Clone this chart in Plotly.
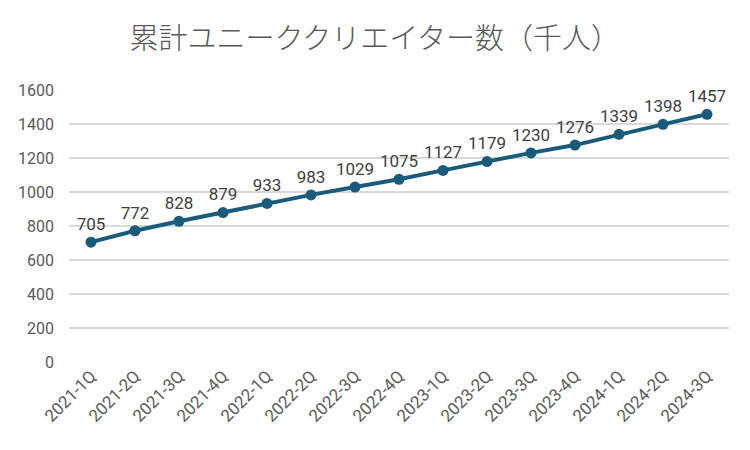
import plotly.graph_objects as go

quarters = ["2021-1Q", "2021-2Q", "2021-3Q", "2021-4Q",
            "2022-1Q", "2022-2Q", "2022-3Q", "2022-4Q",
            "2023-1Q", "2023-2Q", "2023-3Q", "2023-4Q",
            "2024-1Q", "2024-2Q", "2024-3Q"]
creators = [705, 772, 828, 879, 933, 983, 1029, 1075,
            1127, 1179, 1230, 1276, 1339, 1398, 1457]
y_ticks = [0, 200, 400, 600, 800, 1000, 1200, 1400, 1600]

line_color = "#1a5b7c"

fig = go.Figure(go.Scatter(
    x=quarters,
    y=creators,
    mode="lines+markers+text",
    text=[str(v) for v in creators],
    textposition="top center",
    textfont=dict(size=17, color="#404040"),
    line=dict(color=line_color, width=4),
    marker=dict(color=line_color, size=11),
    cliponaxis=False,
))

# page body adds ~8px offset, so margins are shifted to compensate
fig.update_layout(
    width=750, height=450,
    margin=dict(l=61, r=29, t=82, b=96),
    paper_bgcolor="white",
    plot_bgcolor="white",
    font=dict(family="Roboto, Noto Sans CJK JP", color="#595959"),
    title=dict(text="累計ユニーククリエイター数（千人）",
               x=0.489, xanchor="center", y=0.932, yanchor="middle",
               font=dict(family="Noto Sans CJK JP", size=29, weight=300,
                         color="#595959")),
    showlegend=False,
)
fig.update_xaxes(tickangle=-45, tickfont=dict(size=17, color="#595959"),
                 range=[-0.5, len(quarters) - 0.5],
                 showgrid=False, showline=False, ticks="", automargin=False)
fig.update_yaxes(range=[0, 1600], tickvals=y_ticks,
                 tickfont=dict(size=16, color="#595959"),
                 gridcolor="#d9d9d9", gridwidth=1.5, zeroline=False,
                 ticks="", ticklabelstandoff=14, automargin=False)

fig.write_html("out.html")
